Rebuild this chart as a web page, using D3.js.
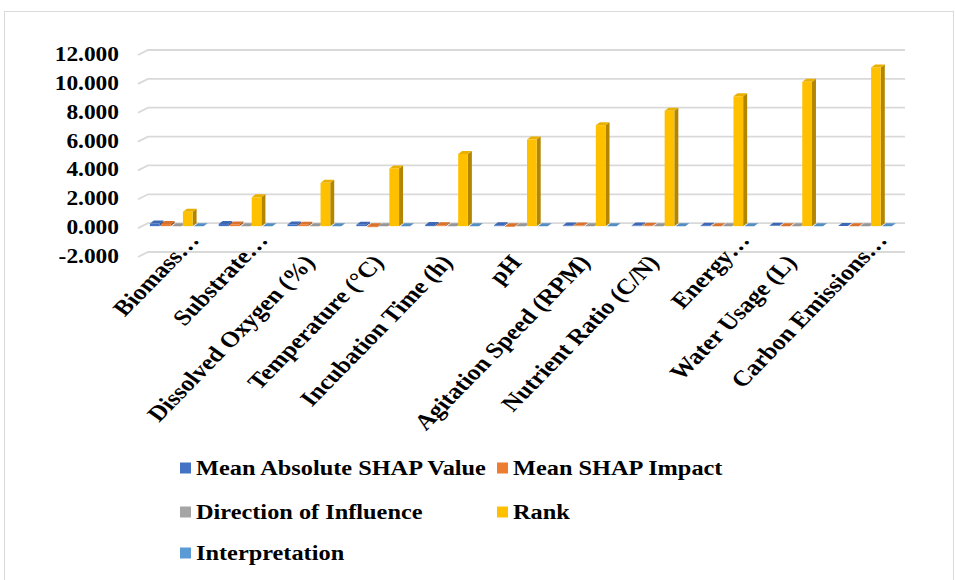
<!DOCTYPE html>
<html>
<head>
<meta charset="utf-8">
<script src="https://cdn.jsdelivr.net/npm/d3@7"></script>
<style>
  body { margin: 0; background: #fff; }
  text { font-family: "Liberation Serif", "Times New Roman", serif; font-weight: bold; fill: #000; }
</style>
</head>
<body>
<div id="chart"></div>
<script>
// features on the category axis (long names are cut off in the original)
var categories = ["Biomass\u2026", "Substrate\u2026", "Dissolved Oxygen (%)", "Temperature (\u00B0C)",
  "Incubation Time (h)", "pH", "Agitation Speed (RPM)", "Nutrient Ratio (C/N)",
  "Energy\u2026", "Water Usage (L)", "Carbon Emissions\u2026"];

var seriesNames = ["Mean Absolute SHAP Value", "Mean SHAP Impact", "Direction of Influence", "Rank", "Interpretation"];
var seriesColors = ["#4472C4", "#ED7D31", "#A5A5A5", "#FFC000", "#5B9BD5"];

var meanAbsShap = [0.18, 0.15, 0.12, 0.10, 0.08, 0.06, 0.05, 0.04, 0.03, 0.02, 0.01];
var meanShapImpact = [0.15, 0.12, 0.09, -0.07, 0.06, -0.05, 0.04, 0.03, -0.02, -0.01, -0.02];
var directionOfInfluence = [0, 0, 0, 0, 0, 0, 0, 0, 0, 0, 0];
var rank = [1, 2, 3, 4, 5, 6, 7, 8, 9, 10, 11];
var interpretation = [0, 0, 0, 0, 0, 0, 0, 0, 0, 0, 0];

var yTicks = [-2, 0, 2, 4, 6, 8, 10, 12];

var seriesValues = [meanAbsShap, meanShapImpact, directionOfInfluence, rank, interpretation];

var width = 955, height = 580;
var stretch = 1.17;            // text in the original is drawn wider than normal
var depth = {x: 4, y: -3};     // bar depth
var wall = {x: 10, y: -5};     // side wall depth

var svg = d3.select("#chart").append("svg")
  .attr("width", width)
  .attr("height", height);

svg.append("rect")
  .attr("x", 4.5).attr("y", 11.5)
  .attr("width", 949).attr("height", 600)
  .attr("fill", "none")
  .attr("stroke", "#d9d9d9");

var yBack = d3.scaleLinear().domain([-2, 12]).range([252, 50]);
var wallLeft = 148, wallRight = 905;

var x = d3.scaleBand()
  .domain(categories)
  .range([wallLeft - 5, wallRight - 5])
  .paddingInner(0.2)
  .paddingOuter(0.1);

var xs = d3.scaleBand()
  .domain(seriesNames)
  .range([0, x.bandwidth()]);

// gridlines on back wall + slanted part on the side wall
svg.append("g").selectAll("path")
  .data(yTicks)
  .enter()
  .append("path")
  .attr("d", function(d) {
    var y = yBack(d);
    return "M" + (wallLeft - wall.x) + "," + (y - wall.y) + "L" + wallLeft + "," + y + "L" + wallRight + "," + y;
  })
  .attr("fill", "none")
  .attr("stroke", "#d9d9d9")
  .attr("stroke-width", 1.8);

// y tick labels
svg.append("g").selectAll("text")
  .data(yTicks)
  .enter()
  .append("text")
  .attr("transform", function(d) {
    return "translate(119," + (yBack(d) + 4) + ") scale(" + stretch + ",1)";
  })
  .attr("dy", "0.35em")
  .attr("text-anchor", "end")
  .style("font-size", "20px")
  .text(function(d) { return d3.format(".3f")(d).replace("\u2212", "-"); });

// 3d bars
function yFront(v) {
  return yBack(v) + 3;
}

function drawBox(g, x0, w, v, color) {
  var y0 = yFront(0), y1 = yFront(v);
  var top = Math.min(y0, y1), bot = Math.max(y0, y1);
  var c = d3.color(color);
  g.append("polygon")
    .attr("points", [[x0 + w, top], [x0 + w + depth.x, top + depth.y], [x0 + w + depth.x, bot + depth.y], [x0 + w, bot]].join(" "))
    .attr("fill", c.darker(1));
  g.append("polygon")
    .attr("points", [[x0, top], [x0 + depth.x, top + depth.y], [x0 + w + depth.x, top + depth.y], [x0 + w, top]].join(" "))
    .attr("fill", c.darker(0.25));
  if (bot - top > 0.3) {
    g.append("rect")
      .attr("x", x0).attr("y", top)
      .attr("width", w).attr("height", bot - top)
      .attr("fill", color);
  }
}

var bars = svg.append("g");
var barW = xs.bandwidth() * 0.88;
categories.forEach(function(cat, i) {
  seriesNames.forEach(function(name, s) {
    drawBox(bars, x(cat) + xs(name), barW, seriesValues[s][i], seriesColors[s]);
  });
});

// category labels, rotated
svg.append("g").selectAll("text")
  .data(categories)
  .enter()
  .append("text")
  .attr("transform", function(d) {
    var cx = x(d) + x.bandwidth() / 2;
    return "translate(" + (cx + 1) + ",263) scale(" + stretch + ",1) rotate(-50)";
  })
  .attr("dx", function(d) { return d.slice(-1) === "\u2026" ? 29 : 0; })
  .attr("text-anchor", "end")
  .style("font-size", "22px")
  .text(function(d) { return d; });

// legend
var legendPos = [[180, 468], [497, 468], [180, 512], [497, 512], [180, 553]];
var legend = svg.append("g").selectAll("g")
  .data(seriesNames)
  .enter()
  .append("g")
  .attr("transform", function(d, i) {
    return "translate(" + legendPos[i][0] + "," + legendPos[i][1] + ")";
  });

legend.append("rect")
  .attr("x", 0).attr("y", -5.5)
  .attr("width", 11).attr("height", 11)
  .attr("fill", function(d, i) { return seriesColors[i]; });

legend.append("text")
  .attr("transform", "translate(16,0) scale(" + stretch + ",1)")
  .attr("dy", "0.35em")
  .style("font-size", "20.8px")
  .text(function(d) { return d; });
</script>
</body>
</html>
